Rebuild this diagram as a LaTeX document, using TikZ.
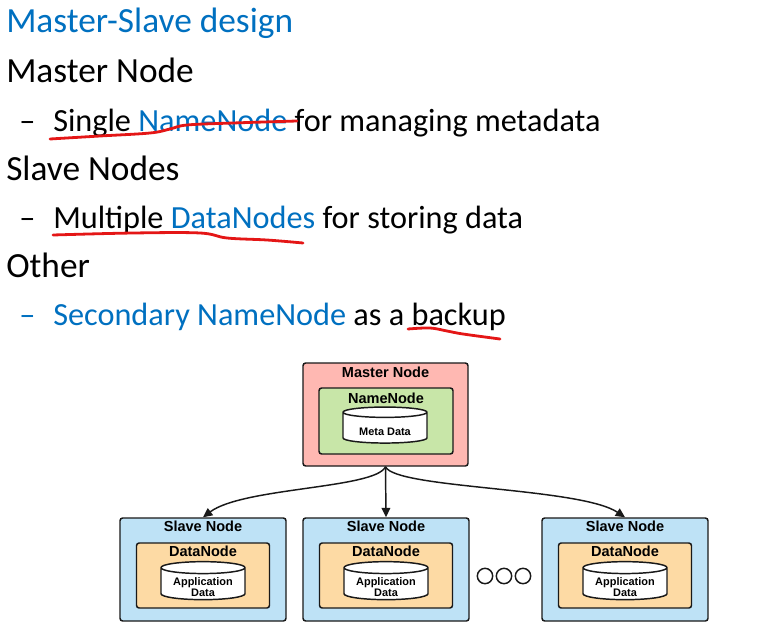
\documentclass[tikz,border=0pt]{standalone}
\usepackage{fontspec}
\setmainfont{Carlito}
\newfontfamily\diagfont{Liberation Sans}
\usetikzlibrary{shapes.geometric,arrows.meta,positioning}
\definecolor{msblue}{RGB}{0,112,192}
\definecolor{inkred}{RGB}{228,22,22}
\definecolor{masterFill}{RGB}{255,184,178}
\definecolor{nameFill}{RGB}{200,230,168}
\definecolor{slaveFill}{RGB}{190,226,246}
\definecolor{dataFill}{RGB}{253,218,164}
\definecolor{edge}{RGB}{25,25,25}

\tikzset{
  line/.style={font=\fontsize{26.5}{30}\selectfont, inner sep=0pt, anchor=base west},
  subline/.style={font=\fontsize{24.2}{28}\selectfont, inner sep=0pt, anchor=base west},
  box/.style={draw=edge, line width=1.1pt, rounded corners=2pt, inner sep=0pt},
  boxtitle/.style={font=\diagfont\bfseries\fontsize{10.9}{12}\selectfont, inner sep=0pt},
  store/.style={cylinder, shape border rotate=90, aspect=0.2, draw=edge, fill=white,
    line width=1.1pt, inner sep=0pt, minimum width=63pt, minimum height=27pt,
    align=center, font=\diagfont\bfseries\fontsize{8.2}{8.4}\selectfont},
  storetext/.style={align=center, inner sep=0pt, font=\diagfont\bfseries\fontsize{8.2}{8.4}\selectfont},
  link/.style={line width=1.1pt, draw=edge, -{Triangle[length=7pt,width=6.5pt]}},
  scrawl/.style={inkred, line width=2.1pt, line cap=round, line join=round}
}

\begin{document}
\begin{tikzpicture}[x=0.75pt, y=-0.75pt]
\useasboundingbox (0,0) rectangle (767,628);

% ── Slide text ──
\node[line, msblue] (title) at (6,32) {Master-Slave design};
\node[line] (master) at (6,82) {Master Node};
\node[subline] (dashA) at (19,131) {–};
\node[subline] (single) at (53,131) {Single \textcolor{msblue}{NameNode} for managing metadata};
\node[line] (slaves) at (6,180) {Slave Nodes};
\node[subline] (dashB) at (19,228) {–};
\node[subline] (multi) at (53,228) {Multiple \textcolor{msblue}{DataNodes} for storing data};
\node[line] (other) at (6,277) {Other};
\node[subline, msblue] (dashC) at (19,325) {–};
\node[subline] (second) at (53,325) {\textcolor{msblue}{Secondary NameNode} as a backup};

% ── Hand marks ──
\draw[scrawl] plot[smooth, tension=0.6] coordinates {(50,139) (100,136) (150,133) (170,129) (187,125) (233,123) (297,121)};
\draw[scrawl] plot[smooth, tension=0.6] coordinates {(53,235) (133,233) (200,233) (227,238) (267,240) (303,243)};
\draw[scrawl] plot[smooth, tension=0.6] coordinates {(408,329) (430,328) (447,331) (463,334) (500,339)};

% ═══════════════════════════════════════════
% Master node
% ═══════════════════════════════════════════
\node[box, fill=masterFill, minimum width=123.75pt, minimum height=77.25pt] (mbox) at (385.5,414.5) {};
\node[boxtitle] (mtitle) at (385.5,372) {Master Node};
\node[box, fill=nameFill, minimum width=100.5pt, minimum height=49.5pt] (nbox) at (386,421) {};
\node[boxtitle] (ntitle) at (386,398) {NameNode};
\node[store] (meta) at (385,428) {\phantom{Meta Data}};
\node[storetext] (metaT) at (385,432) {Meta Data};

% ═══════════════════════════════════════════
% Slave nodes
% ═══════════════════════════════════════════
\foreach \id/\cx in {L/203, M/386, R/625} {
  \node[box, fill=slaveFill, minimum width=124.5pt, minimum height=77.25pt] (s\id) at (\cx,569.5) {};
  \node[boxtitle] (st\id) at (\cx,526) {Slave Node};
  \node[box, fill=dataFill, minimum width=99.75pt, minimum height=48.75pt] (d\id) at (\cx,575.5) {};
  \node[boxtitle] (dt\id) at (\cx,551.5) {DataNode};
  \node[store, minimum height=28.5pt] (app\id) at (\cx,584) {\phantom{Application}\\\phantom{Data}};
  \node[storetext] (appT\id) at (\cx,587) {Application\\Data};
}

\foreach \k/\cx in {1/485, 2/504, 3/523}
  \node[circle, draw=edge, line width=1.1pt, minimum size=11.5pt, inner sep=0pt] (dot\k) at (\cx,576) {};

% ── Links ──
\draw[link] (mbox.south) .. controls +(-10,22) and +(40,-30) .. (sL.north);
\draw[link] (mbox.south) -- (sM.north);
\draw[link] (mbox.south) .. controls +(10,22) and +(-45,-30) .. (sR.north);

\end{tikzpicture}
\end{document}
